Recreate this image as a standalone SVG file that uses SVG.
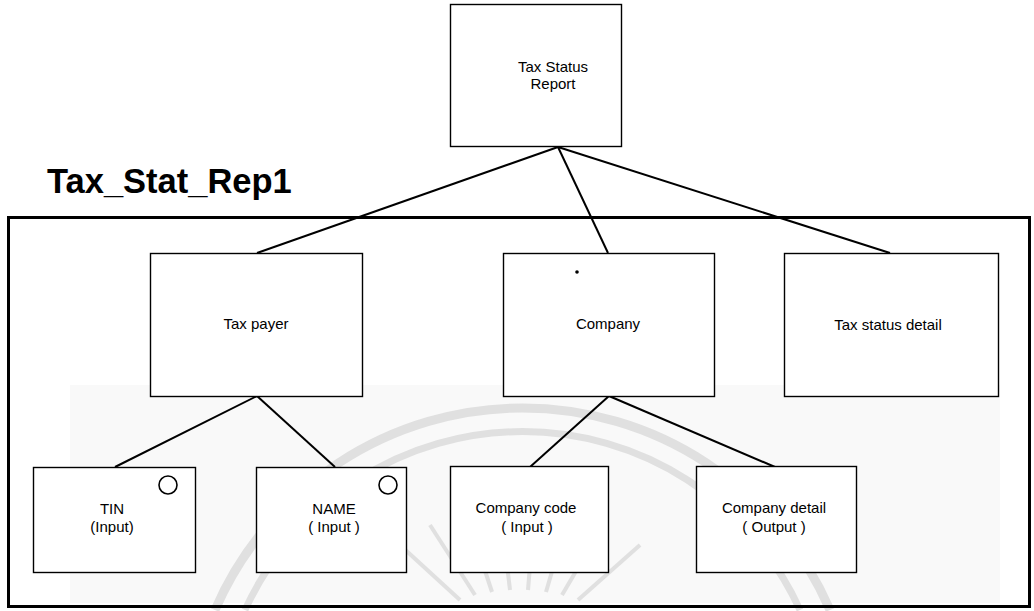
<svg xmlns="http://www.w3.org/2000/svg" width="1034" height="611" viewBox="0 0 1034 611">
<style>
.box{fill:#fff;stroke:#000;stroke-width:1.4}
.lbl{font-family:"Liberation Sans",Arial,sans-serif;font-size:15px;fill:#000;text-anchor:middle}
.con{stroke:#000;stroke-width:2;fill:none}
.wm{fill:none;stroke:#e0e0e0}
</style>
<rect width="1034" height="611" fill="#fff"/>
<rect x="70" y="385" width="930" height="218" fill="#f9f9f9"/>
<g id="watermark">
<path class="wm" stroke-width="9" d="M 215 610 A 335 335 0 0 1 830 610"/>
<path class="wm" stroke-width="7" d="M 245 610 A 305 305 0 0 1 800 610"/>
<g class="wm" stroke-width="4">
<line x1="460" y1="600" x2="400" y2="545"/>
<line x1="475" y1="595" x2="430" y2="525"/>
<line x1="492" y1="592" x2="465" y2="510"/>
<line x1="510" y1="590" x2="500" y2="505"/>
<line x1="528" y1="590" x2="535" y2="505"/>
<line x1="546" y1="592" x2="570" y2="510"/>
<line x1="562" y1="595" x2="605" y2="522"/>
<line x1="578" y1="600" x2="640" y2="545"/>
</g>
</g>
<text x="47" y="193" font-family="Liberation Sans,Arial,sans-serif" font-size="34.5" font-weight="bold" fill="#000">Tax_Stat_Rep1</text>
<rect id="frame" x="8.5" y="217.5" width="1021" height="389" fill="none" stroke="#000" stroke-width="3"/>
<g id="connectors">
<line class="con" x1="558" y1="147" x2="257" y2="253"/>
<line class="con" x1="558" y1="147" x2="608" y2="253"/>
<line class="con" x1="558" y1="147" x2="890" y2="253"/>
<line class="con" x1="257" y1="396" x2="115" y2="467"/>
<line class="con" x1="257" y1="396" x2="335" y2="467"/>
<line class="con" x1="609" y1="396" x2="530" y2="467"/>
<line class="con" x1="609" y1="396" x2="775" y2="467"/>
</g>
<g id="report">
<rect class="box" x="450.5" y="4.5" width="171" height="142"/>
<text class="lbl" x="553" y="72">Tax Status</text>
<text class="lbl" x="553" y="89">Report</text>
</g>
<g id="taxpayer">
<rect class="box" x="150.5" y="253.5" width="212" height="143"/>
<text class="lbl" x="256" y="329">Tax payer</text>
</g>
<g id="company">
<rect class="box" x="503.5" y="253.5" width="211" height="143"/>
<circle cx="577" cy="272" r="1.8" fill="#000"/>
<text class="lbl" x="608" y="329">Company</text>
</g>
<g id="taxstatusdetail">
<rect class="box" x="784.5" y="253.5" width="214" height="143"/>
<text class="lbl" x="888" y="330">Tax status detail</text>
</g>
<g id="tin">
<rect class="box" x="33.5" y="467.5" width="162" height="105"/>
<circle cx="168" cy="485" r="9" fill="none" stroke="#000" stroke-width="1.6"/>
<text class="lbl" x="112" y="514">TIN</text>
<text class="lbl" x="112" y="532">(Input)</text>
</g>
<g id="name">
<rect class="box" x="256.5" y="467.5" width="150" height="105"/>
<circle cx="388" cy="485" r="9" fill="none" stroke="#000" stroke-width="1.6"/>
<text class="lbl" x="334" y="514">NAME</text>
<text class="lbl" x="334" y="532">( Input )</text>
</g>
<g id="companycode">
<rect class="box" x="450.5" y="466.5" width="158" height="106"/>
<text class="lbl" x="526" y="513">Company code</text>
<text class="lbl" x="527" y="532">( Input )</text>
</g>
<g id="companydetail">
<rect class="box" x="696.5" y="466.5" width="160" height="106"/>
<text class="lbl" x="774" y="513">Company detail</text>
<text class="lbl" x="774" y="532">( Output )</text>
</g>
</svg>
